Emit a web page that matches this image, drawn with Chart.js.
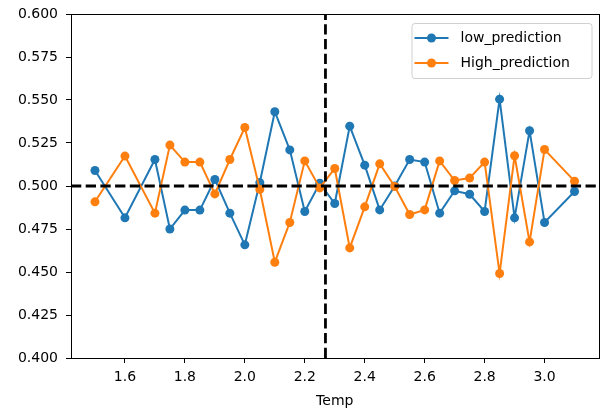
<!DOCTYPE html>
<html>
<head>
<meta charset="utf-8">
<script src="https://cdn.jsdelivr.net/npm/chart.js@4.4.0/dist/chart.umd.min.js"></script>
<style>
  html, body { margin: 0; padding: 0; background: #fff; }
  #wrap { width: 603px; height: 410px; position: relative; }
</style>
</head>
<body>
<div id="wrap"><canvas id="predChart"></canvas></div>
<script>
const temps = [1.5, 1.6, 1.7, 1.75, 1.8, 1.85, 1.9, 1.95, 2.0, 2.05, 2.1, 2.15, 2.2, 2.25, 2.3,
               2.35, 2.4, 2.45, 2.5, 2.55, 2.6, 2.65, 2.7, 2.75, 2.8, 2.85, 2.9, 2.95, 3.0, 3.1];
const lowPred = [0.509, 0.4815, 0.5154, 0.475, 0.486, 0.486, 0.5038, 0.4842, 0.4658, 0.502, 0.5432, 0.521, 0.4852, 0.5016, 0.4898,
                 0.5348, 0.5121, 0.4861, 0.500, 0.5154, 0.5139, 0.4842, 0.4972, 0.4952, 0.4852, 0.5505, 0.4815, 0.5321, 0.4788, 0.4968];
const highPred = [0.4908, 0.5174, 0.4842, 0.5238, 0.5139, 0.5139, 0.4954, 0.5154, 0.534, 0.498, 0.4557, 0.4788, 0.5146, 0.4989, 0.5102,
                  0.464, 0.4879, 0.5129, 0.4997, 0.4834, 0.4861, 0.5146, 0.5032, 0.5046, 0.5139, 0.4491, 0.5176, 0.4675, 0.5212, 0.5028];
const xTicks = [1.6, 1.8, 2.0, 2.2, 2.4, 2.6, 2.8, 3.0];
const yTicks = [0.4, 0.425, 0.45, 0.475, 0.5, 0.525, 0.55, 0.575, 0.6];
const critTemp = 2.269;
const threshold = 0.5;
const xRange = [1.42, 3.18];
const yRange = [0.4, 0.6];

const blue = '#1f77b4';
const orange = '#ff7f0e';
const font = 'DejaVu Sans';

function toPoints(xs, ys) {
    return xs.map((x, i) => ({ x: x, y: ys[i] }));
}

// axes frame + matplotlib style legend
const framePlugin = {
    id: 'frame',
    afterDraw(chart) {
        const ctx = chart.ctx;
        const a = chart.chartArea;
        ctx.save();
        ctx.strokeStyle = '#000';
        ctx.lineWidth = 1;
        ctx.strokeRect(Math.round(a.left) + 0.5, Math.round(a.top) + 0.5,
                       Math.round(a.right - a.left), Math.round(a.bottom - a.top));

        const items = chart.data.datasets.filter(d => d.showInLegend);
        const w = 180, h = 55;
        const x0 = a.right - 7 - w, y0 = a.top + 9;
        ctx.beginPath();
        ctx.roundRect(x0 + 0.5, y0 + 0.5, w, h, 3);
        ctx.fillStyle = 'rgba(255,255,255,0.8)';
        ctx.fill();
        ctx.strokeStyle = '#d0d0d0';
        ctx.stroke();
        ctx.font = '14px "' + font + '"';
        ctx.textBaseline = 'middle';
        items.forEach((d, i) => {
            const yy = y0 + 15 + i * 25;
            ctx.strokeStyle = d.borderColor;
            ctx.lineWidth = 2;
            ctx.beginPath();
            ctx.moveTo(x0 + 3, yy);
            ctx.lineTo(x0 + 37, yy);
            ctx.stroke();
            ctx.fillStyle = d.borderColor;
            ctx.beginPath();
            ctx.arc(x0 + 20, yy, 4.5, 0, Math.PI * 2);
            ctx.fill();
            ctx.fillStyle = '#000';
            ctx.fillText(d.label, x0 + 49, yy);
        });
        ctx.restore();
    }
};

const ctx = document.getElementById('predChart').getContext('2d');
new Chart(ctx, {
    type: 'line',
    data: {
        datasets: [
            {
                label: 'threshold',
                data: [{ x: xRange[0], y: threshold }, { x: xRange[1], y: threshold }],
                borderColor: '#000',
                borderWidth: 2.8,
                borderDash: [10.3, 4.4],
                pointRadius: 0,
                order: 0,
            },
            {
                label: 'Tc',
                data: [{ x: critTemp, y: yRange[0] }, { x: critTemp, y: yRange[1] }],
                borderColor: '#000',
                borderWidth: 2.8,
                borderDash: [10.3, 4.4],
                pointRadius: 0,
                order: 0,
            },
            {
                label: 'low_prediction',
                data: toPoints(temps, lowPred),
                borderColor: blue,
                backgroundColor: blue,
                borderWidth: 2,
                pointRadius: 4.5,
                pointBorderWidth: 0,
                showInLegend: true,
                order: 2,
            },
            {
                label: 'High_prediction',
                data: toPoints(temps, highPred),
                borderColor: orange,
                backgroundColor: orange,
                borderWidth: 2,
                pointRadius: 4.5,
                pointBorderWidth: 0,
                showInLegend: true,
                order: 1,
            }
        ]
    },
    options: {
        responsive: true,
        maintainAspectRatio: false,
        animation: false,
        layout: { padding: { top: 14, right: 4, left: 0, bottom: 0 } },
        elements: { line: { tension: 0 } },
        scales: {
            x: {
                type: 'linear',
                min: xRange[0],
                max: xRange[1],
                afterBuildTicks: s => { s.ticks = xTicks.map(v => ({ value: v })); },
                afterFit: s => { s.height = 52; s.paddingLeft = 0; s.paddingRight = 0; },
                grid: { drawOnChartArea: false, drawTicks: true, tickLength: 5, color: '#000' },
                border: { display: true, color: '#000' },
                ticks: {
                    color: '#000',
                    padding: 6,
                    maxRotation: 0,
                    font: { family: font, size: 14 },
                    callback: v => v.toFixed(1)
                },
                title: {
                    display: true,
                    text: 'Temp',
                    color: '#000',
                    padding: { top: 0, bottom: 0 },
                    font: { family: font, size: 14 }
                }
            },
            y: {
                min: yRange[0],
                max: yRange[1],
                afterBuildTicks: s => { s.ticks = yTicks.map(v => ({ value: v })); },
                afterFit: s => { s.width = 71; s.paddingTop = 0; s.paddingBottom = 0; },
                grid: { drawOnChartArea: false, drawTicks: true, tickLength: 5, color: '#000' },
                border: { display: true, color: '#000' },
                ticks: {
                    color: '#000',
                    padding: 8,
                    font: { family: font, size: 14 },
                    callback: v => v.toFixed(3)
                }
            }
        },
        plugins: {
            legend: { display: false },
            tooltip: { enabled: false }
        }
    },
    plugins: [framePlugin]
});
</script>
</body>
</html>
